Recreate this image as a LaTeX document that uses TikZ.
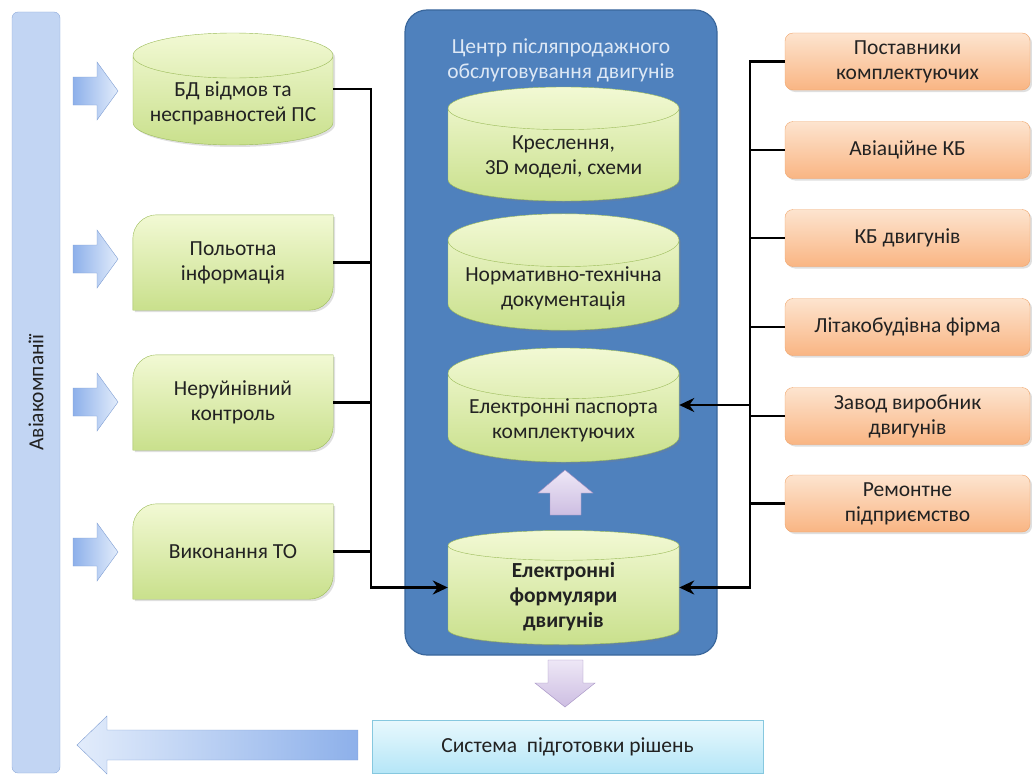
\documentclass[tikz,border=0pt]{standalone}
\usepackage{fontspec}
\setmainfont{Carlito}
\usetikzlibrary{shapes.geometric,arrows.meta,backgrounds,shadows}
\definecolor{txt}{HTML}{222222}
\definecolor{grtop}{HTML}{F2F9D4}
\definecolor{grbot}{HTML}{C9E08C}
\definecolor{grline}{HTML}{9BBB59}
\definecolor{ortop}{HTML}{FDE4CF}
\definecolor{orbot}{HTML}{F9B583}
\definecolor{orline}{HTML}{EFA46A}
\definecolor{cblue}{HTML}{4F81BD}
\definecolor{cline}{HTML}{3A679C}
\definecolor{ctitle}{HTML}{DDE8F5}
\definecolor{barfill}{HTML}{C2D5F3}
\definecolor{barline}{HTML}{8EAADB}
\definecolor{arrl}{HTML}{E2ECFB}
\definecolor{arrd}{HTML}{8DB0EA}
\definecolor{arrline}{HTML}{7F9ED3}
\definecolor{lavl}{HTML}{EEE7F6}
\definecolor{lavd}{HTML}{CDBEE2}
\definecolor{lavline}{HTML}{A08CC0}
\definecolor{systop}{HTML}{E8F8FD}
\definecolor{sysbot}{HTML}{B5E6F7}
\definecolor{sysline}{HTML}{86C8DF}
\begin{document}
\begin{tikzpicture}[x=1pt,y=-1pt,
  font=\fontsize{21.5}{25}\selectfont, text=txt,
  shad/.style={drop shadow={opacity=.25,shadow xshift=2pt,shadow yshift=-2pt}},
  db/.style={cylinder,shape border rotate=90,aspect=.26,anchor=shape center,draw=grline,top color=grtop,bottom color=grbot,
    inner ysep=0pt,minimum width=231pt,minimum height=114pt,align=center,shad},
  grbox/.style={minimum width=200pt,minimum height=95pt,align=center},
  grshape/.style={draw=grline,top color=grtop,bottom color=grbot,shad},
  firm/.style={draw=orline,top color=ortop,bottom color=orbot,rounded corners=8pt,
    minimum width=245pt,minimum height=57pt,align=center,shad},
  bus/.style={line width=2.8pt},
  arr/.style={bus,-{Stealth[length=15pt,width=14pt]}},
  blk/.style={draw=arrline,left color=arrd,right color=arrl},
  lav/.style={draw=lavline,top color=lavl,bottom color=lavd}]
\useasboundingbox (0,0) rectangle (1032,776);
\node[draw=barline,fill=barfill,rounded corners=6pt,minimum width=48pt,minimum height=761pt] (avia) at (36,392.5) {\rotatebox{90}{Авіакомпанії}};
\foreach \y in {91,259,402,552}
  \draw[blk] (73,\y-14) -- (97,\y-14) -- (97,\y-29) -- (118,\y) -- (97,\y+29) -- (97,\y+14) -- (73,\y+14) -- cycle;
\draw[draw=arrline,left color=arrl,right color=arrd] (358,730) -- (107,730) -- (107,716) -- (77,745) -- (107,774) -- (107,760) -- (358,760) -- cycle;

\node[db,minimum width=200pt,minimum height=112pt] (bdv) at (233,89) {БД відмов та\\несправностей ПС};
\node[grbox] (polit) at (233,262.5) {Польотна\\інформація};
\node[grbox] (nrk) at (233,402.5) {Неруйнівний\\контроль};
\node[grbox] (vto) at (233,551.5) {Виконання ТО};
\begin{scope}[on background layer]
\foreach \n in {polit,nrk,vto}
  \draw[grshape] (\n.west) [rounded corners=24pt] -- (\n.north west) -- (\n.north) [sharp corners] -- (\n.north east)
    -- (\n.east) [rounded corners=24pt] -- (\n.south east) -- (\n.south) [sharp corners] -- (\n.south west) -- cycle;
\end{scope}

\node[fill=cblue,draw=cline,line width=1.2pt,rounded corners=22pt,minimum width=312pt,minimum height=645pt] (centre) at (561,332.5) {};
\node[text=ctitle,align=center] (ctitle) at (561,60) {Центр післяпродажного\\обслуговування двигунів};
\node[db] (kresl) at (563.5,144) {Креслення,\\3D моделі, схеми};
\node[db] (norm) at (563.5,272) {Нормативно-технічна\\документація};
\node[db] (pasp) at (563.5,405) {Електронні паспорта\\комплектуючих};
\node[db,font=\fontsize{21.5}{25}\selectfont\bfseries] (form) at (563.5,587.5) {Електронні\\формуляри\\двигунів};
\draw[lav] (550,515) -- (550,493) -- (538,493) -- (565,470) -- (593,493) -- (581,493) -- (581,515) -- cycle;
\draw[lav] (548,660) -- (583,660) -- (583,683) -- (595,683) -- (565,707) -- (535,683) -- (548,683) -- cycle;
\node[draw=sysline,top color=systop,bottom color=sysbot,minimum width=391pt,minimum height=53pt] (syst) at (567.5,746.5) {Система\ \ підготовки рішень};

\node[firm] (post) at (907.5,61.5) {Поставники\\комплектуючих};
\node[firm] (avkb) at (907.5,150) {Авіаційне КБ};
\node[firm] (kbdv) at (907.5,238) {КБ двигунів};
\node[firm] (litak) at (907.5,327) {Літакобудівна фірма};
\node[firm] (zavod) at (907.5,416) {Завод виробник\\двигунів};
\node[firm] (remont) at (907.5,503.5) {Ремонтне\\підприємство};

\coordinate (lbus) at (371,0);
\coordinate (rbus) at (750,0);
\draw[arr] (bdv.shape center -| bdv.east) -- (bdv.shape center -| lbus) |- (form.shape center -| form.west);
\foreach \n in {polit,nrk,vto} \draw[bus] (\n.east) -- (\n.east -| lbus);
\draw[arr] (post.west) -- (post.west -| rbus) |- (form.shape center -| form.east);
\foreach \n in {avkb,kbdv,litak,zavod,remont} \draw[bus] (\n.west) -- (\n.west -| rbus);
\draw[arr] (pasp.shape center -| rbus) -- (pasp.shape center -| pasp.east);
\end{tikzpicture}
\end{document}
